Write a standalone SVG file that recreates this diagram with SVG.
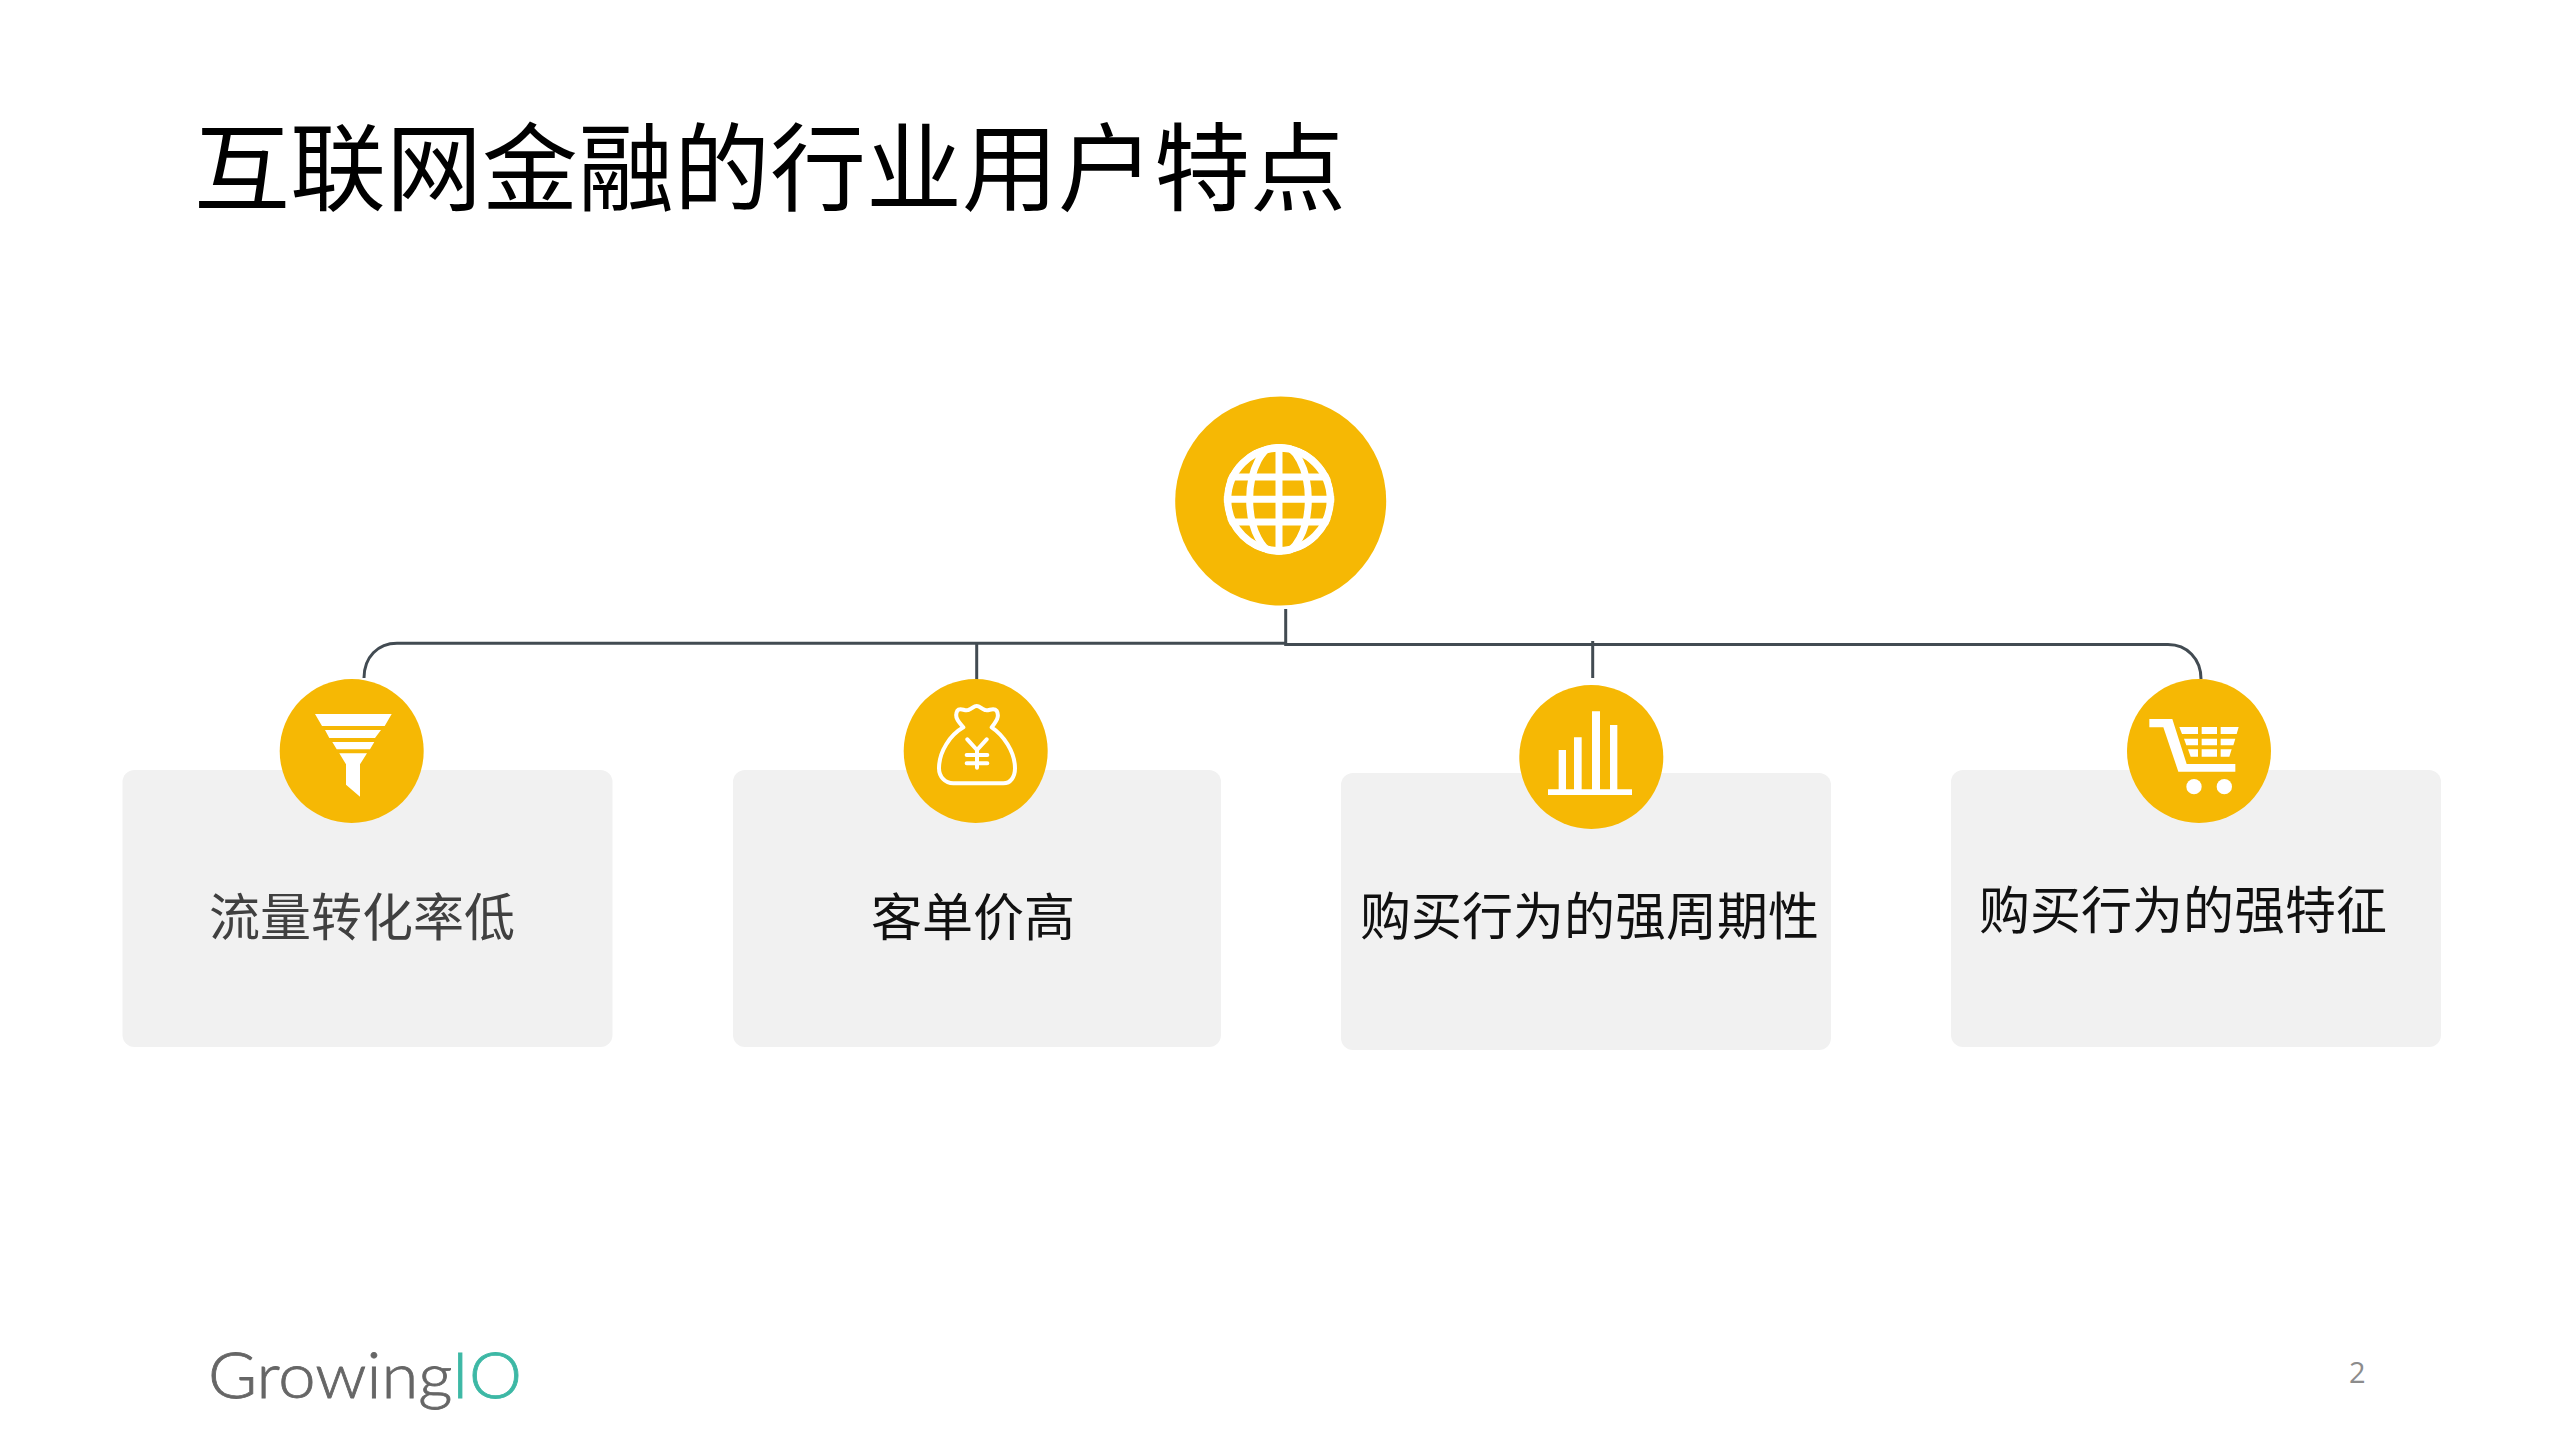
<svg xmlns="http://www.w3.org/2000/svg" width="2559" height="1439" viewBox="0 0 2559 1439">
<style>
.cn{font-family:"Noto Sans CJK SC","Noto Sans",sans-serif;font-weight:400}
.lab{fill:#111}
.card{fill:#f1f1f1}
.dot{fill:#f6b804}
.ic{fill:#fff}
.ln{fill:none;stroke:#424b52;stroke-width:3}
.st{fill:none;stroke:#fff;stroke-linecap:round;stroke-linejoin:round;stroke-width:12}
</style>
<rect width="2559" height="1439" fill="#fff"/>
<text id="title" class="cn" x="194" y="203" font-size="96" fill="#000">互联网金融的行业用户特点</text>
<g id="connectors">
<path class="ln" d="M1285.500 643.300H397C378 643.300 364 657 364 678"/>
<path class="ln" d="M1285.700 609V644.600H2168C2187 644.600 2201 659 2201 679"/>
<path class="ln" d="M976.700 643.300V681"/>
<path class="ln" d="M1592.700 641V678"/>
</g>
<g id="card1"><rect class="card" x="122.500" y="770" width="490" height="277" rx="12"/><text class="cn lab" font-size="51" x="209" y="936" style="fill:#404040">流量转化率低</text></g>
<g id="card2"><rect class="card" x="733" y="770" width="488" height="277" rx="12"/><text class="cn lab" font-size="51" x="871" y="936">客单价高</text></g>
<g id="card3"><rect class="card" x="1341" y="773" width="490" height="277" rx="12"/><text class="cn lab" font-size="51" x="1360" y="935">购买行为的强周期性</text></g>
<g id="card4"><rect class="card" x="1951" y="770" width="490" height="277" rx="12"/><text class="cn lab" font-size="51" x="1979" y="929">购买行为的强特征</text></g>
<g id="hub">
<ellipse class="dot" cx="1280.700" cy="501" rx="105.500" ry="104.500"/>
<g transform="translate(1140 380) scale(.33333)">
<clipPath id="gc"><circle cx="417" cy="358" r="166"/></clipPath>
<g clip-path="url(#gc)" fill="none" stroke="#fff" stroke-width="21">
<circle cx="417" cy="358" r="154" stroke-width="22"/>
<ellipse cx="417" cy="358" rx="88" ry="165"/>
<path d="M417 190V530M250 291H590M250 358H590M250 426H590"/>
</g>
</g>
</g>
<g id="funnel">
<circle class="dot" cx="351.700" cy="751" r="72"/>
<path class="ic" d="M315 714H391.700L384.700 726H322ZM325 730H381L375 738H329.300ZM332.300 742H374.300L370 749.300H336.700ZM339.300 753.300H367L360 764.300V796.700L346 784.700V764.300Z"/>
</g>
<g id="bag">
<circle class="dot" cx="975.700" cy="751" r="72"/>
<g transform="translate(890 670) scale(.33333)">
<path class="st" d="M190 340H340C362 340 375 320 375 295C375 245 340 195 305 172C318 155 330 140 320 122C310 110 295 125 285 120C272 116 270 108 260 108C250 108 248 116 235 120C225 125 210 110 202 122C192 140 205 155 220 172C180 195 147 245 147 295C147 320 165 340 190 340Z"/>
<path class="st" d="M232 208L261 240L290 208M261 240V293M230 255H292M230 280H292"/>
</g>
</g>
<g id="chart">
<circle class="dot" cx="1591.300" cy="757" r="72"/>
<g transform="translate(1510 670) scale(.33333)">
<path class="ic" d="M146 240H168V360H146ZM192 202H215V360H192ZM246 124H270V360H246ZM300 165H322V360H300ZM114 358H366V375H114Z"/>
</g>
</g>
<g id="cart">
<circle class="dot" cx="2199" cy="751" r="72"/>
<g transform="translate(2120 670) scale(.33333)">
<path class="ic" d="M88 147H157L200 282H346V305H175L130 172H88ZM178 171H234V192H186ZM245 171H291V192H245ZM302 171H356L350 192H302ZM192 206H234V226H199ZM245 206H291V226H245ZM302 206H346L340 226H302ZM204 238H234V260H212ZM245 238H291V260H245ZM302 238H335L328 260H302Z"/>
<circle class="ic" cx="222" cy="350" r="23"/>
<circle class="ic" cx="313" cy="350" r="23"/>
</g>
</g>
<g id="logo">
<text x="208" y="1398" font-size="64" font-family="Lato,'Open Sans',sans-serif" font-weight="300" stroke-width=".8" textLength="314" lengthAdjust="spacingAndGlyphs"><tspan fill="#666" stroke="#666">Growing</tspan><tspan fill="#3db8a5" stroke="#3db8a5">IO</tspan></text>
</g>
<text id="page" x="2349" y="1383" font-size="29" font-family="'Open Sans',sans-serif" fill="#8c8c8c">2</text>
</svg>
